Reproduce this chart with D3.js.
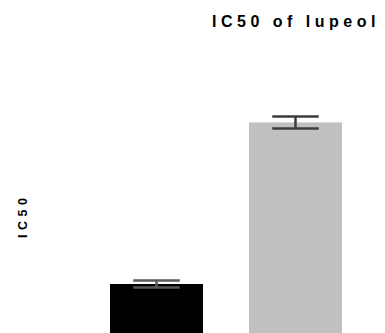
<!DOCTYPE html>
<html>
<head>
<meta charset="utf-8">
<script src="https://cdn.jsdelivr.net/npm/d3@7"></script>
<style>
  html, body { margin: 0; padding: 0; background: #fff; }
  svg { display: block; }
  text { font-family: "Liberation Sans", Arial, sans-serif; font-weight: bold; }
</style>
</head>
<body>
<svg id="chart" width="385" height="333"></svg>
<script>
// IC50 values (mean and error) for each group
const categories = ["Control", "Lupeol"];
const ic50Values = [17.0, 57.4];
const ic50Errors = [0.85, 1.5];
const barColors = ["#000000", "#c0c0c0"];
const errorColors = ["#5a5a5a", "#3c3c3c"];

const data = categories.map((c, i) => ({
  name: c, value: ic50Values[i], err: ic50Errors[i],
  fill: barColors[i], errColor: errorColors[i]
}));

const svg = d3.select("#chart");

const x = d3.scaleBand()
  .domain(categories)
  .range([87, 365])
  .paddingInner(0.331)
  .paddingOuter(0.1655);

// baseline sits just below the visible area
const y = d3.scaleLinear()
  .domain([0, 80])
  .range([352, 32]);

// bars
svg.selectAll("rect.bar")
  .data(data)
  .join("rect")
  .attr("class", "bar")
  .attr("x", d => x(d.name))
  .attr("y", d => y(d.value))
  .attr("width", x.bandwidth())
  .attr("height", d => y(0) - y(d.value))
  .attr("fill", d => d.fill);

// error bars
const capW = x.bandwidth() * 0.5;
const eb = svg.selectAll("g.err")
  .data(data)
  .join("g")
  .attr("class", "err")
  .attr("stroke", d => d.errColor);

eb.append("line")
  .attr("x1", d => x(d.name) + x.bandwidth() / 2)
  .attr("x2", d => x(d.name) + x.bandwidth() / 2)
  .attr("y1", d => y(d.value + d.err))
  .attr("y2", d => y(d.value - d.err))
  .attr("stroke-width", 2.5);

[1, -1].forEach(sign => {
  eb.append("line")
    .attr("x1", d => x(d.name) + x.bandwidth() / 2 - capW / 2)
    .attr("x2", d => x(d.name) + x.bandwidth() / 2 + capW / 2)
    .attr("y1", d => y(d.value + sign * d.err))
    .attr("y2", d => y(d.value + sign * d.err))
    .attr("stroke-width", 2.5);
});

// title
svg.append("text")
  .attr("x", 212)
  .attr("y", 27)
  .attr("font-size", 16)
  .attr("letter-spacing", 4.5)
  .attr("fill", "#000")
  .text("IC50 of lupeol");

// y-axis label
svg.append("text")
  .attr("transform", "translate(27,238) rotate(-90)")
  .attr("font-size", 12.5)
  .attr("letter-spacing", 4.5)
  .attr("fill", "#000")
  .text("IC50");
</script>
</body>
</html>
